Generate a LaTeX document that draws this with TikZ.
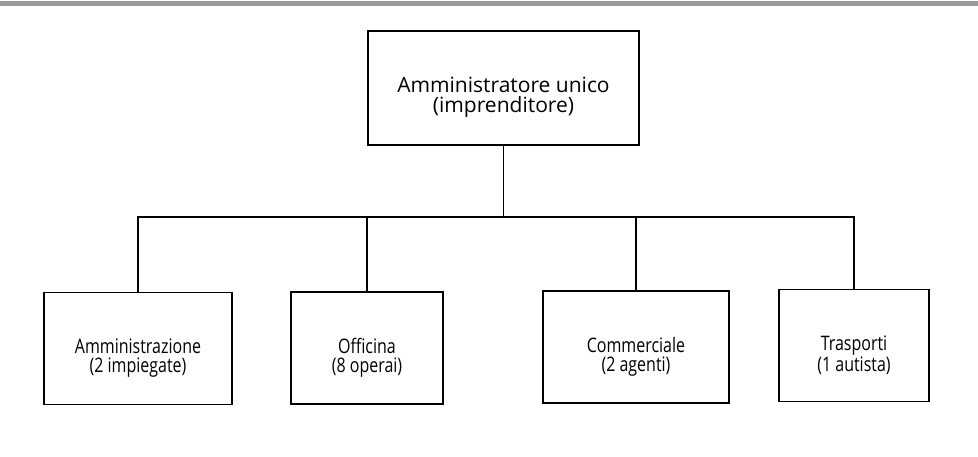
\documentclass[tikz,border=0pt]{standalone}
\usepackage{fontspec}
\setmainfont{Open Sans}
\newfontfamily\headfont{Open Sans}
\newfontfamily\unitfont[FakeStretch=0.8]{Open Sans}
\newcommand{\lowtext}{\rule{0pt}{34pt}}
\begin{document}
\begin{tikzpicture}[x=1pt,y=-1pt,line width=1.2pt,
  headbox/.style={draw,rectangle,align=center,minimum width=271pt,minimum height=114pt,
    font=\headfont\fontsize{21}{20}\selectfont},
  unitbox/.style={draw,rectangle,align=center,minimum height=112pt,
    font=\unitfont\fontsize{20}{19}\selectfont}]

\useasboundingbox (0,0) rectangle (978,456);
\fill[gray!80] (0,0.5) rectangle (978,5.5);

\node[headbox] (capo) at (503.5,88) {\lowtext Amministratore unico\\(imprenditore)};

\node[unitbox,minimum width=188pt] (amm) at (138,348.5) {\lowtext Amministrazione\\(2 impiegate)};
\node[unitbox,minimum width=152pt] (off) at (367,348) {\lowtext Officina\\(8 operai)};
\node[unitbox,minimum width=186pt] (com) at (636,347) {\lowtext Commerciale\\(2 agenti)};
\node[unitbox,minimum width=150pt] (tra) at (854,345.5) {\lowtext Trasporti\\(1 autista)};

\coordinate (bus) at (503.5,217);

\draw (capo.south) -- (bus);
\draw (amm.north) |- (bus) -| (tra.north);
\draw (off.north) -- (off.north |- bus);
\draw (com.north) -- (com.north |- bus);

\end{tikzpicture}
\end{document}
